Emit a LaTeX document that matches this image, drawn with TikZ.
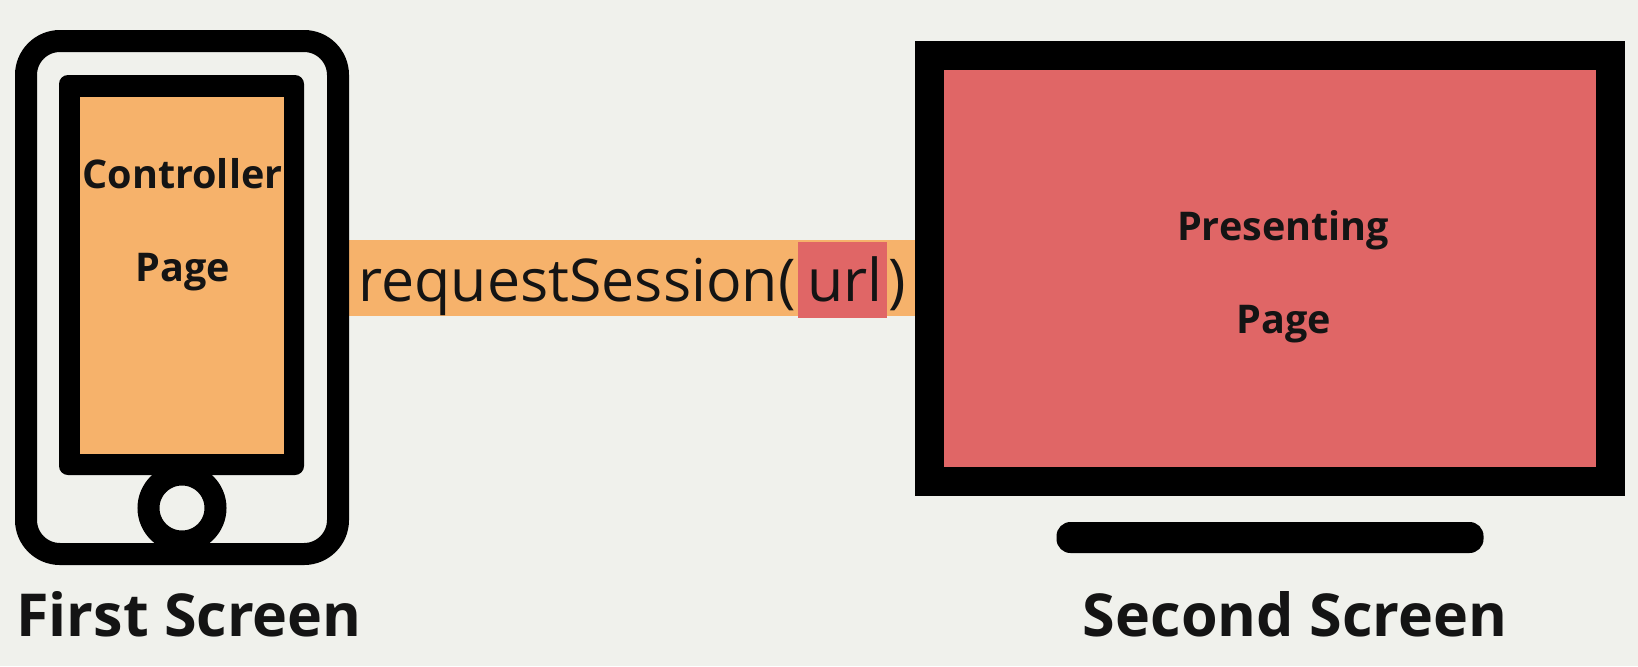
\documentclass[tikz,border=0pt]{standalone}
\usepackage{fontspec}
\setmainfont{Open Sans}
\definecolor{pagebg}{HTML}{F0F1EC}
\definecolor{controllerorange}{HTML}{F6B26B}
\definecolor{presentingred}{HTML}{E06666}
\definecolor{inkdark}{HTML}{141414}
\begin{document}
\begin{tikzpicture}[
    block/.style={rectangle, inner sep=0pt, outer sep=0pt},
    label/.style={anchor=base, inner sep=0pt, text=inkdark},
    pagelabel/.style={label, font=\bfseries\fontsize{11.25}{13}\selectfont},
    screenlabel/.style={label, font=\bfseries\fontsize{16.85}{19}\selectfont},
    calltext/.style={label, font=\fontsize{16.8}{19}\selectfont}
]

% Background
\fill[pagebg] (0,0) rectangle (16.38,6.66);

% Call band between the two screens
\node[block, fill=controllerorange, minimum width=5.66cm, minimum height=0.76cm] (band) at (6.32,3.88) {};
\node[block, fill=presentingred, minimum width=0.89cm, minimum height=0.76cm] (urlbox) at (8.425,3.86) {};
\node[calltext, anchor=base west] (call) at (3.58,3.65) {requestSession(};
\node[calltext] (url) at (8.45,3.65) {url};
\node[calltext] (close) at (8.975,3.65) {)};

% First screen: phone body, screen and home button
\node[block, draw=black, line width=0.22cm, rounded corners=0.34cm, minimum width=3.12cm, minimum height=5.13cm] (phone) at (1.82,3.685) {};
\node[block, fill=black, rounded corners=0.09cm, minimum width=2.45cm, minimum height=4.00cm] (phoneframe) at (1.815,3.91) {};
\node[block, fill=controllerorange, minimum width=2.04cm, minimum height=3.57cm] (controller) at (1.82,3.905) {};
\node[circle, draw=black, fill=pagebg, line width=0.22cm, inner sep=0pt, minimum size=0.67cm] (home) at (1.82,1.58) {};
\node[pagelabel] (controllertext) at (1.825,4.78) {Controller};
\node[pagelabel] (controllerpage) at (1.825,3.845) {Page};
\node[screenlabel] (first) at (1.89,0.30) {First Screen};

% Second screen: monitor, stand
\node[block, fill=presentingred, draw=black, line width=0.29cm, minimum width=6.81cm, minimum height=4.26cm] (monitor) at (12.70,3.98) {};
\node[block, fill=black, rounded corners=0.14cm, minimum width=4.27cm, minimum height=0.31cm] (stand) at (12.70,1.285) {};
\node[pagelabel] (presenting) at (12.83,4.26) {Presenting};
\node[pagelabel] (presentingpage) at (12.84,3.33) {Page};
\node[screenlabel] (second) at (12.95,0.30) {Second Screen};

\end{tikzpicture}
\end{document}
